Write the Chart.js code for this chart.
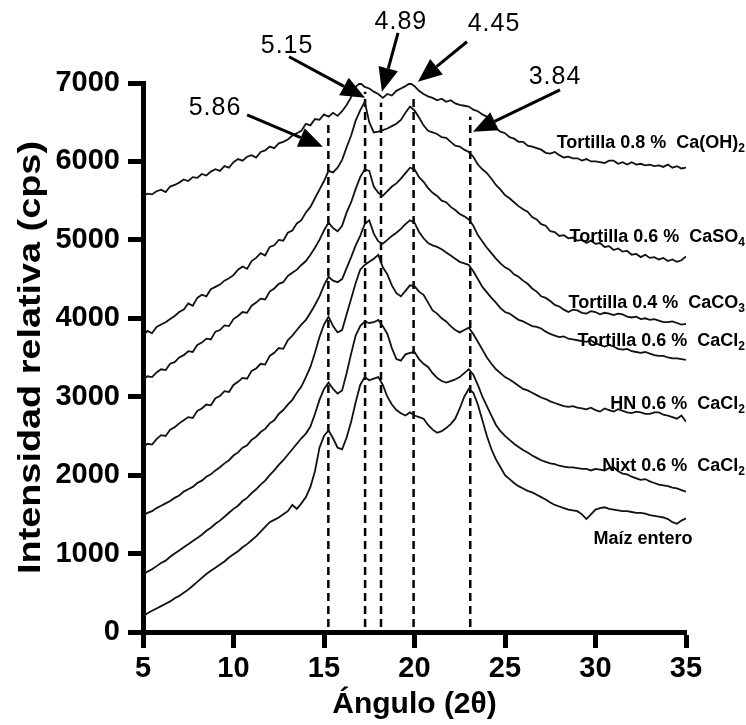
<!DOCTYPE html>
<html>
<head>
<meta charset="utf-8">
<script src="https://cdn.jsdelivr.net/npm/chart.js@4.4.1/dist/chart.umd.min.js"></script>
<style>
  html,body{margin:0;padding:0;background:#fff;}
  #wrap{width:746px;height:725px;position:relative;}
</style>
</head>
<body>
<div id="wrap"><canvas id="c"></canvas></div>
<script>
// ---- Data ----
const angle2theta = [
  5,5.25,5.5,5.75,6,6.25,6.5,6.75,7,7.25,7.5,7.75,
  8,8.25,8.5,8.75,9,9.25,9.5,9.75,10,10.25,10.5,10.75,
  11,11.25,11.5,11.75,12,12.25,12.5,12.75,13,13.25,13.5,13.75,
  14,14.25,14.5,14.75,15,15.25,15.5,15.75,16,16.25,16.5,16.75,
  17,17.25,17.5,17.75,18,18.25,18.5,18.75,19,19.25,19.5,19.75,
  20,20.25,20.5,20.75,21,21.25,21.5,21.75,22,22.25,22.5,22.75,
  23,23.25,23.5,23.75,24,24.25,24.5,24.75,25,25.25,25.5,25.75,
  26,26.25,26.5,26.75,27,27.25,27.5,27.75,28,28.25,28.5,28.75,
  29,29.25,29.5,29.75,30,30.25,30.5,30.75,31,31.25,31.5,31.75,
  32,32.25,32.5,32.75,33,33.25,33.5,33.75,34,34.25,34.5,34.75,
  35
];
const tortilla08CaOH2 = [
  5560,5590,5580,5620,5640,5610,5680,5700,5730,5770,5750,5800,
  5790,5840,5820,5870,5900,5880,5940,5920,5990,6030,6010,6060,
  6080,6050,6120,6140,6190,6170,6230,6250,6280,6330,6360,6390,
  6480,6460,6540,6530,6600,6570,6620,6580,6640,6720,6820,6950,
  7000,6950,6930,6890,6860,6810,6860,6840,6900,6930,6960,7000,
  6960,6900,6860,6830,6810,6780,6800,6760,6780,6740,6720,6710,
  6700,6660,6640,6600,6570,6520,6420,6380,6360,6310,6290,6250,
  6250,6200,6190,6170,6150,6110,6100,6120,6080,6050,6060,6040,
  6040,6010,6030,6000,6000,5990,5980,6010,6010,5970,5990,5960,
  5990,5960,5970,5950,5960,5940,5950,5930,5960,5920,5940,5910,
  5920
];
const tortilla06CaSO4 = [
  3780,3840,3810,3890,3920,3950,3990,4030,4080,4110,4190,4160,
  4260,4300,4280,4370,4400,4430,4480,4510,4550,4620,4660,4630,
  4730,4770,4830,4800,4910,4930,5000,4990,5090,5120,5210,5250,
  5350,5420,5530,5640,5750,5880,5860,5920,6020,6180,6330,6520,
  6650,6760,6500,6370,6380,6400,6420,6450,6480,6530,6620,6700,
  6650,6560,6460,6390,6370,6350,6310,6300,6250,6200,6190,6150,
  6120,6060,5960,5900,5850,5780,5700,5640,5570,5530,5480,5430,
  5390,5360,5290,5260,5200,5180,5110,5100,5050,5060,5020,5030,
  4990,5000,4960,4990,4950,4960,4910,4920,4870,4890,4850,4860,
  4810,4820,4780,4810,4770,4780,4750,4770,4730,4750,4720,4740,
  4790
];
const tortilla04CaCO3 = [
  3220,3260,3250,3310,3350,3340,3420,3440,3500,3530,3580,3570,
  3660,3690,3740,3730,3830,3850,3910,3900,3990,4030,4080,4070,
  4160,4200,4250,4240,4340,4380,4440,4460,4540,4580,4620,4680,
  4730,4810,4900,5000,5120,5220,5150,5110,5180,5350,5480,5650,
  5800,5900,5880,5680,5600,5560,5620,5680,5720,5780,5850,5920,
  5900,5800,5740,5660,5600,5560,5500,5480,5420,5380,5330,5300,
  5260,5180,5060,4980,4900,4830,4760,4700,4650,4620,4560,4530,
  4480,4440,4380,4340,4280,4260,4220,4170,4150,4110,4080,4110,
  4100,4070,4060,4090,4080,4050,4070,4060,4040,4060,4050,4020,
  4010,4020,3990,4000,3980,3990,3970,3950,3950,3960,3940,3920,
  3930
];
const tortilla06CaCl2 = [
  2350,2400,2390,2460,2510,2500,2580,2610,2660,2700,2740,2730,
  2820,2850,2900,2890,2980,3010,3070,3060,3150,3190,3240,3230,
  3330,3360,3420,3410,3520,3560,3620,3610,3720,3780,3850,3920,
  3980,4070,4170,4280,4420,4530,4480,4460,4500,4640,4780,4930,
  5050,5200,5250,5080,4980,4950,5000,5050,5090,5140,5200,5250,
  5220,5100,5020,4960,4930,4910,4880,4840,4800,4760,4720,4700,
  4680,4600,4500,4400,4330,4260,4200,4130,4080,4060,4020,3980,
  3960,3930,3900,3890,3870,3830,3800,3780,3760,3770,3740,3730,
  3720,3710,3700,3720,3680,3660,3640,3660,3640,3610,3600,3610,
  3580,3570,3560,3570,3550,3530,3520,3520,3500,3490,3490,3480,
  3470
];
const hn06CaCl2 = [
  1480,1520,1540,1580,1610,1640,1670,1710,1740,1790,1820,1850,
  1900,1930,1980,2010,2060,2100,2150,2190,2250,2290,2350,2380,
  2450,2490,2550,2590,2660,2700,2780,2830,2900,2960,3050,3130,
  3250,3380,3560,3760,3920,4020,3900,3820,3850,4050,4250,4450,
  4620,4680,4720,4760,4810,4650,4560,4420,4320,4280,4350,4420,
  4410,4340,4300,4200,4100,4060,4000,3960,3900,3850,3820,3850,
  3880,3800,3700,3600,3500,3420,3350,3300,3250,3220,3180,3140,
  3100,3080,3050,3020,2990,2970,2940,2920,2900,2880,2870,2880,
  2860,2850,2840,2860,2830,2810,2850,2830,2810,2840,2820,2800,
  2790,2810,2800,2780,2780,2800,2800,2770,2760,2740,2720,2760,
  2680
];
const nixt06CaCl2 = [
  730,770,800,840,880,910,960,1000,1040,1080,1120,1160,
  1200,1240,1290,1330,1380,1420,1470,1520,1570,1610,1670,1710,
  1770,1820,1880,1930,2000,2060,2130,2190,2260,2330,2400,2470,
  2530,2620,2780,2960,3100,3180,3100,3040,3080,3300,3550,3780,
  3900,3960,3940,3950,3980,3900,3800,3620,3480,3460,3540,3560,
  3570,3480,3420,3380,3300,3240,3200,3180,3200,3220,3250,3300,
  3350,3280,3150,3000,2880,2760,2640,2560,2500,2450,2400,2360,
  2320,2290,2250,2220,2190,2170,2150,2140,2120,2110,2100,2100,
  2090,2080,2080,2060,2080,2070,2060,2090,2100,2050,2020,2010,
  1980,1960,1940,1950,1920,1900,1880,1870,1860,1840,1830,1810,
  1790
];
const maizEntero = [
  200,240,270,300,330,360,390,430,460,500,540,590,
  640,690,740,780,820,860,900,950,990,1030,1080,1120,
  1170,1220,1280,1340,1400,1430,1460,1500,1540,1620,1570,1640,
  1720,1850,2050,2350,2500,2570,2470,2350,2330,2480,2680,2930,
  3150,3250,3210,3230,3250,3150,3000,2900,2830,2790,2760,2800,
  2760,2740,2720,2640,2580,2540,2560,2600,2650,2720,2850,3000,
  3100,3050,2900,2700,2500,2330,2200,2100,2000,1950,1900,1860,
  1830,1800,1780,1750,1720,1690,1650,1620,1600,1580,1560,1550,
  1540,1500,1440,1500,1560,1580,1590,1570,1560,1550,1540,1540,
  1530,1520,1520,1510,1490,1480,1470,1460,1440,1400,1380,1420,
  1450
];
const seriesList = [tortilla08CaOH2, tortilla06CaSO4, tortilla04CaCO3, tortilla06CaCl2, hn06CaCl2, nixt06CaCl2, maizEntero];
const seriesNames = ['Tortilla 0.8 %  Ca(OH)2','Tortilla 0.6 %  CaSO4','Tortilla 0.4 %  CaCO3','Tortilla 0.6 %  CaCl2','HN 0.6 %  CaCl2','Nixt 0.6 %  CaCl2','Maíz entero'];

// reference peaks (2θ) and d-spacings (Å)
const peakAngles = [15.24, 17.27, 18.15, 19.95, 23.08];
const peakLineTops = [6505, 6888, 6747, 6850, 6569];
const peakLineBottom = 64;
const dSpacings = ['5.86','5.15','4.89','4.45','3.84'];

const xTicks = [5,10,15,20,25,30,35];
const yTicks = [0,1000,2000,3000,4000,5000,6000,7000];
const xTitle = 'Ángulo (2θ)';
const yTitle = 'Intensidad relativa (cps)';

// ---- layout of annotations (data coordinates) ----
const arrowLayout = [
  {text:[8.98,6684],  from:[10.75,6594], to:[14.94,6186]},
  {text:[12.96,7474], from:[13.07,7334], to:[17.27,6811]},
  {text:[19.25,7781], from:[19.09,7640], to:[18.20,6888]},
  {text:[24.39,7755], from:[22.90,7526], to:[20.19,7015]},
  {text:[27.76,7079], from:[28.04,6913], to:[23.23,6378]}
];
const labelLayout = [
  {x:38.26, y:6237, align:'right'},
  {x:38.26, y:5038, align:'right'},
  {x:38.26, y:4196, align:'right'},
  {x:38.26, y:3712, align:'right'},
  {x:38.26, y:2908, align:'right'},
  {x:38.26, y:2117, align:'right'},
  {x:32.63, y:1186, align:'center'}
];

const FONT = '"Liberation Sans", Arial, sans-serif';

const datasets = [];
seriesList.forEach((s, k) => {
  datasets.push({
    label: seriesNames[k],
    data: angle2theta.map((a, i) => ({x: a, y: s[i]})),
    borderColor: '#111', borderWidth: 1.8, pointRadius: 0, showLine: true, tension: 0, fill: false
  });
});
peakAngles.forEach((a, k) => {
  datasets.push({
    label: 'd=' + dSpacings[k],
    data: [{x: a, y: peakLineBottom}, {x: a, y: peakLineTops[k]}],
    borderColor: '#000', borderWidth: 2.5, borderDash: [8, 5], pointRadius: 0, showLine: true, fill: false
  });
});

const annotPlugin = {
  id: 'annot',
  afterDatasetsDraw(chart) {
    const {ctx, scales: {x, y}} = chart;
    ctx.save();
    ctx.fillStyle = '#000'; ctx.strokeStyle = '#000';
    arrowLayout.forEach((a, k) => {
      const x0 = x.getPixelForValue(a.from[0]), y0 = y.getPixelForValue(a.from[1]);
      const x1 = x.getPixelForValue(a.to[0]), y1 = y.getPixelForValue(a.to[1]);
      const ang = Math.atan2(y1 - y0, x1 - x0);
      const hl = 24, hw = 10;
      const bx = x1 - hl * Math.cos(ang), by = y1 - hl * Math.sin(ang);
      ctx.lineWidth = 3;
      ctx.beginPath(); ctx.moveTo(x0, y0); ctx.lineTo(bx, by); ctx.stroke();
      ctx.beginPath(); ctx.moveTo(x1, y1);
      ctx.lineTo(bx + hw * Math.sin(ang), by - hw * Math.cos(ang));
      ctx.lineTo(bx - hw * Math.sin(ang), by + hw * Math.cos(ang));
      ctx.closePath(); ctx.fill();
      ctx.font = '25px ' + FONT;
      ctx.textAlign = 'center'; ctx.textBaseline = 'middle';
      try { ctx.letterSpacing = '1px'; } catch (e) {}
      ctx.fillText(dSpacings[k], x.getPixelForValue(a.text[0]), y.getPixelForValue(a.text[1]));
      try { ctx.letterSpacing = '0px'; } catch (e) {}
    });
    // series labels with subscripts
    seriesNames.forEach((name, k) => {
      const L = labelLayout[k];
      const m = name.match(/^(.*?)(\d)$/);
      let main = name, sub = '';
      if (m && name.indexOf('Ca') >= 0) { main = m[1]; sub = m[2]; }
      const fMain = 'bold 18px ' + FONT, fSub = 'bold 12px ' + FONT;
      ctx.font = fMain; const wMain = ctx.measureText(main).width;
      ctx.font = fSub; const wSub = sub ? ctx.measureText(sub).width : 0;
      const total = wMain + wSub;
      const px = x.getPixelForValue(L.x), py = y.getPixelForValue(L.y);
      let left = L.align === 'right' ? px - total : px - total / 2;
      ctx.textAlign = 'left'; ctx.textBaseline = 'middle';
      ctx.font = fMain; ctx.fillText(main, left, py);
      if (sub) { ctx.font = fSub; ctx.fillText(sub, left + wMain, py + 6); }
    });
    // y-axis title (stretched along its length like the reference)
    const ca = chart.chartArea;
    ctx.translate(31, (ca.top + ca.bottom) / 2);
    ctx.rotate(-Math.PI / 2);
    ctx.scale(1.22, 1);
    ctx.font = 'bold 31px ' + FONT;
    ctx.textAlign = 'center'; ctx.textBaseline = 'middle';
    ctx.fillText(yTitle, 0, 0);
    ctx.restore();
  }
};

new Chart(document.getElementById('c'), {
  type: 'scatter',
  data: { datasets },
  options: {
    responsive: true, maintainAspectRatio: false, animation: false, devicePixelRatio: 1,
    layout: { padding: { left: 0, right: 60, top: 83, bottom: 0 } },
    plugins: { legend: { display: false }, tooltip: { enabled: false } },
    elements: { line: { borderCapStyle: 'butt' } },
    scales: {
      x: {
        type: 'linear', min: 5, max: 35,
        afterBuildTicks: s => { s.ticks = xTicks.map(v => ({value: v})); },
        afterFit: s => { s.height = 93; },
        grid: { display: true, drawOnChartArea: false, drawTicks: true, tickLength: 16, tickWidth: 5, tickColor: '#000' },
        border: { display: true, color: '#000', width: 5 },
        ticks: { color: '#000', padding: 4, font: { family: FONT, size: 29, weight: 'bold' }, maxRotation: 0, callback: v => String(v) },
        title: { display: true, text: xTitle, color: '#000', font: { family: FONT, size: 30, weight: 'bold' }, padding: { top: 0, bottom: 2 } }
      },
      y: {
        type: 'linear', min: 0, max: 7000,
        afterBuildTicks: s => { s.ticks = yTicks.map(v => ({value: v})); },
        afterFit: s => { s.width = 143; },
        grid: { display: true, drawOnChartArea: false, drawTicks: true, tickLength: 15, tickWidth: 5, tickColor: '#000' },
        border: { display: true, color: '#000', width: 5 },
        ticks: { color: '#000', padding: 8, font: { family: FONT, size: 29, weight: 'bold' }, callback: v => String(v) },
        title: { display: false, text: yTitle }
      }
    }
  },
  plugins: [annotPlugin]
});
</script>
</body>
</html>
